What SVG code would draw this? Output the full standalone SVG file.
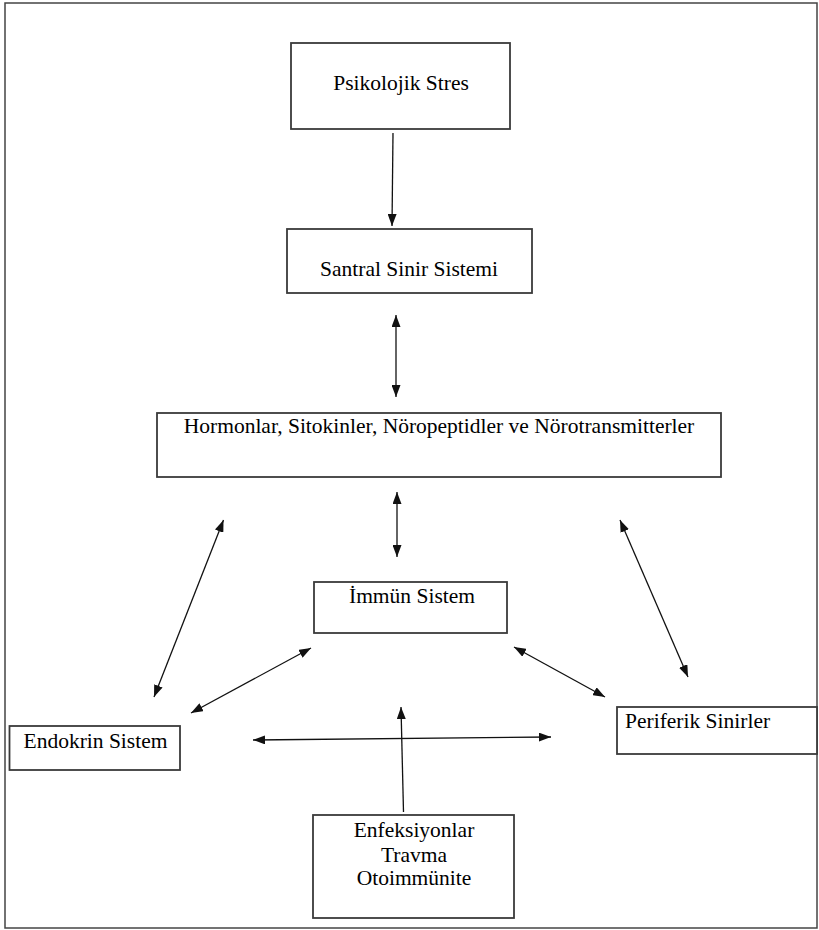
<svg xmlns="http://www.w3.org/2000/svg" width="819" height="930" viewBox="0 0 819 930">
<style>
.box{fill:#fff;stroke:#3a3a3a;stroke-width:1.8}
.t{font-family:"Liberation Serif","Times New Roman",serif;font-size:21.5px;fill:#000}
.c{text-anchor:middle}
.ln{stroke:#111;stroke-width:1.3;fill:none}
.bi{marker-start:url(#ah);marker-end:url(#ah)}
.un{marker-end:url(#ah)}
</style>
<defs>
<marker id="ah" markerUnits="userSpaceOnUse" markerWidth="12" markerHeight="9" refX="12" refY="4.5" orient="auto-start-reverse">
<path d="M0,0 L12,4.5 L0,9 z" fill="#111"/>
</marker>
</defs>
<rect x="0" y="0" width="819" height="930" fill="#fff"/>
<rect x="5" y="3" width="812" height="925" fill="none" stroke="#444" stroke-width="1.5"/>
<g id="psikolojik">
<rect class="box" x="291" y="43" width="219" height="86"/>
<text class="t c" x="401" y="90">Psikolojik Stres</text>
</g>
<g id="santral">
<rect class="box" x="287" y="229" width="245" height="64"/>
<text class="t c" x="409" y="276">Santral Sinir Sistemi</text>
</g>
<g id="hormonlar">
<rect class="box" x="157" y="413" width="564" height="64"/>
<text class="t c" x="439" y="433">Hormonlar, Sitokinler, Nöropeptidler ve Nörotransmitterler</text>
</g>
<g id="immun">
<rect class="box" x="314" y="582" width="193" height="51"/>
<text class="t c" x="412" y="603">İmmün Sistem</text>
</g>
<g id="endokrin">
<rect class="box" x="9.5" y="726" width="170.5" height="44"/>
<text class="t" x="23.5" y="748">Endokrin Sistem</text>
</g>
<g id="periferik">
<rect class="box" x="617" y="707" width="200" height="47"/>
<text class="t" x="625" y="728">Periferik Sinirler</text>
</g>
<g id="enfeksiyonlar">
<rect class="box" x="313" y="815" width="201" height="103"/>
<text class="t c" x="414" y="837">Enfeksiyonlar</text>
<text class="t c" x="414" y="862">Travma</text>
<text class="t c" x="414" y="885">Otoimmünite</text>
</g>
<g id="connectors">
<line class="ln un" x1="393" y1="133" x2="392" y2="226"/>
<line class="ln bi" x1="396" y1="315" x2="396" y2="397"/>
<line class="ln bi" x1="397" y1="492" x2="397" y2="557"/>
<line class="ln bi" x1="223.5" y1="520" x2="154" y2="697"/>
<line class="ln bi" x1="620" y1="520" x2="688" y2="677"/>
<line class="ln bi" x1="311" y1="648" x2="191" y2="713"/>
<line class="ln bi" x1="514" y1="647" x2="605" y2="697"/>
<line class="ln bi" x1="253" y1="740" x2="551" y2="737"/>
<line class="ln un" x1="403.5" y1="812" x2="401" y2="707"/>
</g>
</svg>
